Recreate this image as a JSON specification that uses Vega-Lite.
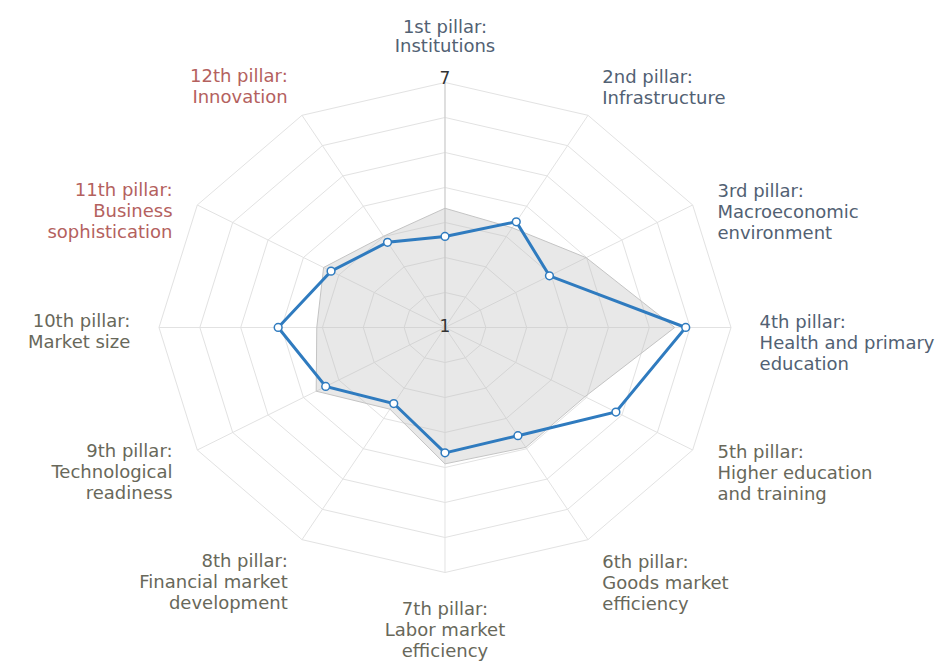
{
  "$schema": "https://vega.github.io/schema/vega-lite/v6.json",
  "width": 950,
  "height": 665,
  "autosize": {"type": "none"},
  "padding": 0,
  "background": "white",
  "config": {"view": {"stroke": null}},
  "datasets": {
    "pillars": [
      {"i": 0, "label": "1st pillar:\nInstitutions", "group": "basic", "country": 3.23, "peer": 3.92},
      {"i": 1, "label": "2nd pillar:\nInfrastructure", "group": "basic", "country": 3.99, "peer": 3.82},
      {"i": 2, "label": "3rd pillar:\nMacroeconomic\nenvironment", "group": "basic", "country": 3.53, "peer": 4.42},
      {"i": 3, "label": "4th pillar:\nHealth and primary\neducation", "group": "basic", "country": 6.05, "peer": 5.82},
      {"i": 4, "label": "5th pillar:\nHigher education\nand training", "group": "efficiency", "country": 5.14, "peer": 4.39},
      {"i": 5, "label": "6th pillar:\nGoods market\nefficiency", "group": "efficiency", "country": 4.06, "peer": 4.39},
      {"i": 6, "label": "7th pillar:\nLabor market\nefficiency", "group": "efficiency", "country": 4.07, "peer": 4.34},
      {"i": 7, "label": "8th pillar:\nFinancial market\ndevelopment", "group": "efficiency", "country": 3.15, "peer": 3.31},
      {"i": 8, "label": "9th pillar:\nTechnological\nreadiness", "group": "efficiency", "country": 3.89, "peer": 4.12},
      {"i": 9, "label": "10th pillar:\nMarket size", "group": "efficiency", "country": 4.5, "peer": 3.69},
      {"i": 10, "label": "11th pillar:\nBusiness\nsophistication", "group": "innovation", "country": 3.76, "peer": 3.94},
      {"i": 11, "label": "12th pillar:\nInnovation", "group": "innovation", "country": 3.41, "peer": 3.58}
    ],
    "rings": [
      {"ring": 1, "i": [0,1,2,3,4,5,6,7,8,9,10,11]},
      {"ring": 2, "i": [0,1,2,3,4,5,6,7,8,9,10,11]},
      {"ring": 3, "i": [0,1,2,3,4,5,6,7,8,9,10,11]},
      {"ring": 4, "i": [0,1,2,3,4,5,6,7,8,9,10,11]},
      {"ring": 5, "i": [0,1,2,3,4,5,6,7,8,9,10,11]},
      {"ring": 6, "i": [0,1,2,3,4,5,6,7,8,9,10,11]},
      {"ring": 7, "i": [0,1,2,3,4,5,6,7,8,9,10,11]}
    ],
    "ticks": [
      {"t": "7", "v": 7},
      {"t": "1", "v": 1}
    ]
  },
  "layer": [
    {
      "data": {"name": "rings"},
      "transform": [
        {"flatten": ["i"]},
        {"calculate": "datum.ring / 7 * sin(datum.i * PI / 6)", "as": "x"},
        {"calculate": "datum.ring / 7 * cos(datum.i * PI / 6)", "as": "y"}
      ],
      "mark": {"type": "line", "interpolate": "linear-closed", "stroke": "#e2e2e2", "strokeWidth": 1},
      "encoding": {
        "x": {"field": "x", "type": "quantitative", "scale": {"domain": [-1.5559, 1.7657], "nice": false, "zero": false}, "axis": null},
        "y": {"field": "y", "type": "quantitative", "scale": {"domain": [-1.3776, 1.3367], "nice": false, "zero": false}, "axis": null},
        "detail": {"field": "ring", "type": "nominal"},
        "order": {"field": "i", "type": "quantitative"}
      }
    },
    {
      "data": {"name": "pillars"},
      "transform": [
        {"calculate": "0", "as": "x"},
        {"calculate": "0", "as": "y"},
        {"calculate": "sin(datum.i * PI / 6)", "as": "sx"},
        {"calculate": "cos(datum.i * PI / 6)", "as": "sy"}
      ],
      "mark": {"type": "rule", "stroke": "#e2e2e2", "strokeWidth": 1},
      "encoding": {
        "x": {"field": "x", "type": "quantitative", "axis": null},
        "y": {"field": "y", "type": "quantitative", "axis": null},
        "x2": {"field": "sx"},
        "y2": {"field": "sy"}
      }
    },
    {
      "data": {"name": "pillars"},
      "transform": [
        {"filter": "datum.i == 0"},
        {"calculate": "0", "as": "x"},
        {"calculate": "0", "as": "y"},
        {"calculate": "sin(datum.i * PI / 6)", "as": "sx"},
        {"calculate": "cos(datum.i * PI / 6)", "as": "sy"}
      ],
      "mark": {"type": "rule", "stroke": "#cccccc", "strokeWidth": 1},
      "encoding": {
        "x": {"field": "x", "type": "quantitative", "axis": null},
        "y": {"field": "y", "type": "quantitative", "axis": null},
        "x2": {"field": "sx"},
        "y2": {"field": "sy"}
      }
    },
    {
      "data": {"name": "pillars"},
      "transform": [
        {"calculate": "(datum.peer - 1) / 6 * sin(datum.i * PI / 6)", "as": "x"},
        {"calculate": "(datum.peer - 1) / 6 * cos(datum.i * PI / 6)", "as": "y"}
      ],
      "mark": {"type": "line", "interpolate": "linear-closed", "fill": "#bdbdbd", "fillOpacity": 0.35, "stroke": "#c4c4c4", "strokeWidth": 1},
      "encoding": {
        "x": {"field": "x", "type": "quantitative", "axis": null},
        "y": {"field": "y", "type": "quantitative", "axis": null},
        "order": {"field": "i", "type": "quantitative"}
      }
    },
    {
      "data": {"name": "pillars"},
      "transform": [
        {"calculate": "(datum.country - 1) / 6 * sin(datum.i * PI / 6)", "as": "x"},
        {"calculate": "(datum.country - 1) / 6 * cos(datum.i * PI / 6)", "as": "y"}
      ],
      "mark": {"type": "line", "interpolate": "linear-closed", "stroke": "#2f7bbf", "strokeWidth": 3},
      "encoding": {
        "x": {"field": "x", "type": "quantitative", "axis": null},
        "y": {"field": "y", "type": "quantitative", "axis": null},
        "order": {"field": "i", "type": "quantitative"}
      }
    },
    {
      "data": {"name": "pillars"},
      "transform": [
        {"calculate": "(datum.country - 1) / 6 * sin(datum.i * PI / 6)", "as": "x"},
        {"calculate": "(datum.country - 1) / 6 * cos(datum.i * PI / 6)", "as": "y"}
      ],
      "mark": {"type": "point", "filled": true, "fill": "white", "stroke": "#2f7bbf", "strokeWidth": 1.5, "size": 60, "opacity": 1},
      "encoding": {
        "x": {"field": "x", "type": "quantitative", "axis": null},
        "y": {"field": "y", "type": "quantitative", "axis": null}
      }
    },
    {
      "data": {"name": "ticks"},
      "transform": [
        {"filter": "datum.v == 7"},
        {"calculate": "0", "as": "x"},
        {"calculate": "(datum.v - 1) / 6", "as": "y"}
      ],
      "mark": {"type": "text", "font": "DejaVu Sans", "fontSize": 17, "fill": "#333333", "align": "center", "baseline": "alphabetic", "dy": 2},
      "encoding": {
        "x": {"field": "x", "type": "quantitative", "axis": null},
        "y": {"field": "y", "type": "quantitative", "axis": null},
        "text": {"field": "t", "type": "nominal"}
      }
    },
    {
      "data": {"name": "ticks"},
      "transform": [
        {"filter": "datum.v == 1"},
        {"calculate": "0", "as": "x"},
        {"calculate": "(datum.v - 1) / 6", "as": "y"}
      ],
      "mark": {"type": "text", "font": "DejaVu Sans", "fontSize": 17, "fill": "#333333", "align": "center", "baseline": "middle", "dy": 0},
      "encoding": {
        "x": {"field": "x", "type": "quantitative", "axis": null},
        "y": {"field": "y", "type": "quantitative", "axis": null},
        "text": {"field": "t", "type": "nominal"}
      }
    },
    {
      "data": {"name": "pillars"},
      "transform": [
        {"filter": "datum.i == 0"},
        {"calculate": "1.1 * sin(datum.i * PI / 6)", "as": "lx"},
        {"calculate": "1.12 * cos(datum.i * PI / 6)", "as": "ly"}
      ],
      "mark": {"type": "text", "font": "DejaVu Sans", "fontSize": 18, "lineHeight": 19, "lineBreak": "\n", "align": "center", "baseline": "alphabetic", "dy": -20},
      "encoding": {
        "x": {"field": "lx", "type": "quantitative", "axis": null},
        "y": {"field": "ly", "type": "quantitative", "axis": null},
        "text": {"field": "label", "type": "nominal"},
        "color": {"field": "group", "type": "nominal", "scale": {"domain": ["basic", "efficiency", "innovation"], "range": ["#526173", "#68685a", "#b4615e"]}, "legend": null}
      }
    },
    {
      "data": {"name": "pillars"},
      "transform": [
        {"filter": "datum.i == 6"},
        {"calculate": "1.1 * sin(datum.i * PI / 6)", "as": "lx"},
        {"calculate": "1.12 * cos(datum.i * PI / 6)", "as": "ly"}
      ],
      "mark": {"type": "text", "font": "DejaVu Sans", "fontSize": 18, "lineHeight": 21, "lineBreak": "\n", "align": "center", "baseline": "top", "dy": -1},
      "encoding": {
        "x": {"field": "lx", "type": "quantitative", "axis": null},
        "y": {"field": "ly", "type": "quantitative", "axis": null},
        "text": {"field": "label", "type": "nominal"},
        "color": {"field": "group", "type": "nominal", "legend": null}
      }
    },
    {
      "data": {"name": "pillars"},
      "transform": [
        {"filter": "datum.i >= 1 && datum.i <= 5"},
        {"calculate": "cos(datum.i * PI / 6)", "as": "c"},
        {"calculate": "1.1 * sin(datum.i * PI / 6)", "as": "lx"},
        {"calculate": "datum.c * (datum.c > 0.8 ? 1.155 : datum.c > 0.3 ? 1.07 : datum.c < -0.8 ? 1.13 : datum.c < -0.3 ? 1.06 : 1.12)", "as": "ly"}
      ],
      "mark": {"type": "text", "font": "DejaVu Sans", "fontSize": 18, "lineHeight": 21, "lineBreak": "\n", "align": "left", "baseline": "alphabetic", "dy": 1},
      "encoding": {
        "x": {"field": "lx", "type": "quantitative", "axis": null},
        "y": {"field": "ly", "type": "quantitative", "axis": null},
        "text": {"field": "label", "type": "nominal"},
        "color": {"field": "group", "type": "nominal", "legend": null}
      }
    },
    {
      "data": {"name": "pillars"},
      "transform": [
        {"filter": "datum.i >= 7"},
        {"calculate": "cos(datum.i * PI / 6)", "as": "c"},
        {"calculate": "1.1 * sin(datum.i * PI / 6)", "as": "lx"},
        {"calculate": "datum.c * (datum.c > 0.8 ? 1.155 : datum.c > 0.3 ? 1.07 : datum.c < -0.8 ? 1.13 : datum.c < -0.3 ? 1.06 : 1.12)", "as": "ly"}
      ],
      "mark": {"type": "text", "font": "DejaVu Sans", "fontSize": 18, "lineHeight": 21, "lineBreak": "\n", "align": "right", "baseline": "alphabetic", "dy": 0},
      "encoding": {
        "x": {"field": "lx", "type": "quantitative", "axis": null},
        "y": {"field": "ly", "type": "quantitative", "axis": null},
        "text": {"field": "label", "type": "nominal"},
        "color": {"field": "group", "type": "nominal", "legend": null}
      }
    }
  ]
}
